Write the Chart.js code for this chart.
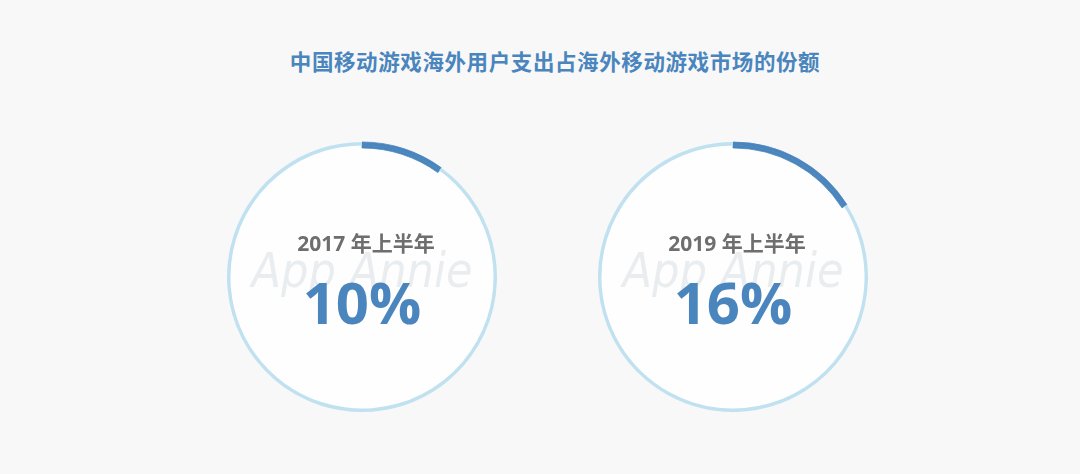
<!DOCTYPE html>
<html>
<head>
<meta charset="utf-8">
<script src="https://cdn.jsdelivr.net/npm/chart.js@4"></script>
<style>
  html, body { margin: 0; padding: 0; }
  body { width: 1080px; height: 474px; background: #f9f8f8; position: relative; overflow: hidden; }
  #title {
    position: absolute; left: 0; top: 45px; width: 1110px; text-align: center;
    font: bold 21.5px "Noto Sans CJK SC", sans-serif; color: #4a86bd; letter-spacing: 0.6px;
  }
  .ring { position: absolute; width: 300px; height: 300px; }
</style>
</head>
<body>
<div id="title">中国移动游戏海外用户支出占海外移动游戏市场的份额</div>
<canvas id="c0" class="ring" style="left:212px; top:127px;"></canvas>
<canvas id="c1" class="ring" style="left:583px; top:127px;"></canvas>
<script>
// share of overseas mobile game market (%)
const periods = ['2017 年上半年', '2019 年上半年'];
const shares = [10, 16];

const darkBlue = '#4a86bd';
const lightBlue = '#c0e1f0';

const centerText = {
  id: 'centerText',
  beforeDatasetsDraw(chart) {
    const arc = chart.getDatasetMeta(0).data[0];
    const ctx = chart.ctx;
    ctx.save();
    ctx.fillStyle = '#fefefe';
    ctx.beginPath();
    ctx.arc(arc.x, arc.y, arc.innerRadius + 0.5, 0, Math.PI * 2);
    ctx.fill();
    ctx.restore();
  },
  afterDatasetsDraw(chart, args, opts) {
    const arc = chart.getDatasetMeta(0).data[0];
    const ctx = chart.ctx;
    const x = arc.x, y = arc.y;
    ctx.save();
    ctx.textAlign = 'center';
    ctx.textBaseline = 'middle';
    // watermark
    ctx.fillStyle = 'rgba(220,225,230,0.6)';
    ctx.font = 'italic 48px "Liberation Sans Narrow", "DejaVu Sans Condensed", sans-serif';
    ctx.fillText('App Annie', x, y - 2);
    // period
    ctx.fillStyle = '#6e6e6e';
    ctx.font = 'bold 21px "Open Sans", "Noto Sans CJK SC", sans-serif';
    ctx.fillText(opts.period, x + 4, y - 32);
    // value
    ctx.fillStyle = darkBlue;
    ctx.font = 'bold 58px "Open Sans", "Noto Sans", sans-serif';
    ctx.fillText(opts.share + '%', x, y + 30);
    ctx.restore();
  }
};

function initRing(id, i) {
  new Chart(document.getElementById(id), {
    type: 'doughnut',
    data: {
      labels: ['share', 'rest'],
      datasets: [{
        data: [shares[i], 100 - shares[i]],
        backgroundColor: [darkBlue, lightBlue],
        borderColor: [darkBlue, lightBlue],
        borderWidth: [0.8, 0],
        weight: 3.5
      }, {
        data: [shares[i], 100 - shares[i]],
        backgroundColor: [darkBlue, 'rgba(0,0,0,0)'],
        borderColor: [darkBlue, 'rgba(0,0,0,0)'],
        borderWidth: [0.8, 0],
        weight: 2.5
      }]
    },
    options: {
      responsive: false,
      animation: false,
      radius: 135,
      cutout: '95.6%',
      layout: { padding: 0 },
      plugins: {
        legend: { display: false },
        tooltip: { enabled: false },
        centerText: { period: periods[i], share: shares[i] }
      }
    },
    plugins: [centerText]
  });
}

initRing('c0', 0);
initRing('c1', 1);
</script>
</body>
</html>
